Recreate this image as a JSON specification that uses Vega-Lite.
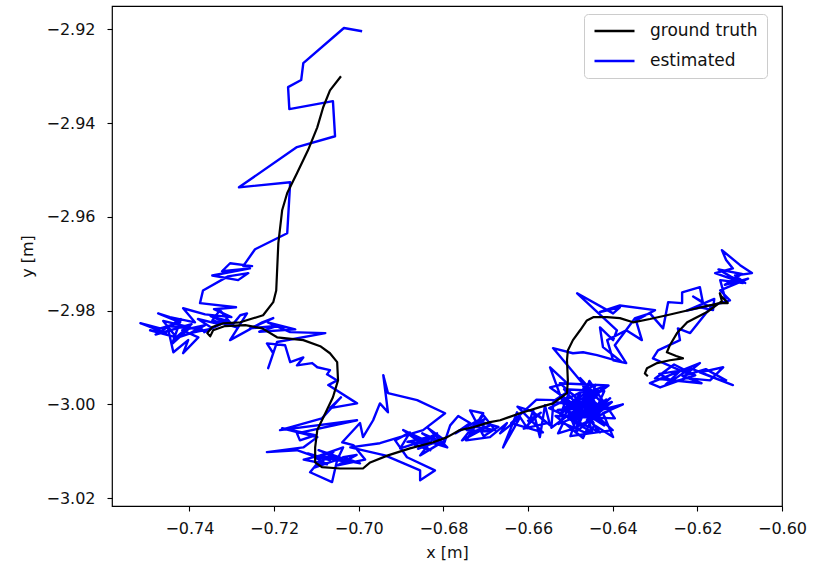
{
"$schema":"https://vega.github.io/schema/vega-lite/v6.json",
"width":670,"height":500,
"autosize":{"type":"none"},
"padding":{"left":112,"top":6,"right":31,"bottom":66},
"background":"white",
"config":{"font":"DejaVu Sans","view":{"stroke":"black","strokeWidth":1.2},
"axis":{"domain":false,"grid":false,"tickColor":"black","tickSize":5,"tickWidth":1.1,"labelColor":"#111","labelFontSize":16,"titleFontSize":16,"titleFontWeight":"normal","titleColor":"#111","labelFlush":false,"labelOverlap":false}},
"datasets":{
"gt":[
{"i":1,"x":-0.7042,"y":-2.9300},{"i":2,"x":-0.7068,"y":-2.9330},{"i":3,"x":-0.7084,"y":-2.9366},{"i":4,"x":-0.7098,"y":-2.9409},{"i":5,"x":-0.7120,"y":-2.9458},{"i":6,"x":-0.7146,"y":-2.9507},{"i":7,"x":-0.7169,"y":-2.9549},{"i":8,"x":-0.7181,"y":-2.9586},{"i":9,"x":-0.7190,"y":-2.9656},{"i":10,"x":-0.7195,"y":-2.9757},{"i":11,"x":-0.7202,"y":-2.9782},{"i":12,"x":-0.7226,"y":-2.9810},{"i":13,"x":-0.7280,"y":-2.9825},{"i":14,"x":-0.7320,"y":-2.9827},{"i":15,"x":-0.7346,"y":-2.9835},{"i":16,"x":-0.7358,"y":-2.9848},{"i":17,"x":-0.7351,"y":-2.9855},{"i":18,"x":-0.7344,"y":-2.9842},{"i":19,"x":-0.7316,"y":-2.9833},{"i":20,"x":-0.7268,"y":-2.9831},{"i":21,"x":-0.7228,"y":-2.9838},{"i":22,"x":-0.7193,"y":-2.9857},{"i":23,"x":-0.7131,"y":-2.9863},{"i":24,"x":-0.7091,"y":-2.9876},{"i":25,"x":-0.7068,"y":-2.9891},{"i":26,"x":-0.7051,"y":-2.9910},{"i":27,"x":-0.7049,"y":-2.9949},{"i":28,"x":-0.7061,"y":-2.9985},{"i":29,"x":-0.7079,"y":-3.0019},{"i":30,"x":-0.7098,"y":-3.0055},{"i":31,"x":-0.7103,"y":-3.0092},{"i":32,"x":-0.7103,"y":-3.0124},{"i":33,"x":-0.7087,"y":-3.0134},{"i":34,"x":-0.7044,"y":-3.0137},{"i":35,"x":-0.6990,"y":-3.0137},{"i":36,"x":-0.6973,"y":-3.0124},{"i":37,"x":-0.6931,"y":-3.0109},{"i":38,"x":-0.6879,"y":-3.0094},{"i":39,"x":-0.6824,"y":-3.0081},{"i":40,"x":-0.6791,"y":-3.0070},{"i":41,"x":-0.6761,"y":-3.0055},{"i":42,"x":-0.6730,"y":-3.0049},{"i":43,"x":-0.6690,"y":-3.0038},{"i":44,"x":-0.6666,"y":-3.0034},{"i":45,"x":-0.6619,"y":-3.0019},{"i":46,"x":-0.6572,"y":-3.0006},{"i":47,"x":-0.6541,"y":-2.9998},{"i":48,"x":-0.6508,"y":-2.9976},{"i":49,"x":-0.6506,"y":-2.9949},{"i":50,"x":-0.6508,"y":-2.9906},{"i":51,"x":-0.6506,"y":-2.9885},{"i":52,"x":-0.6494,"y":-2.9863},{"i":53,"x":-0.6477,"y":-2.9842},{"i":54,"x":-0.6461,"y":-2.9821},{"i":55,"x":-0.6446,"y":-2.9814},{"i":56,"x":-0.6413,"y":-2.9814},{"i":57,"x":-0.6383,"y":-2.9816},{"i":58,"x":-0.6352,"y":-2.9825},{"i":59,"x":-0.6312,"y":-2.9818},{"i":60,"x":-0.6272,"y":-2.9810},{"i":61,"x":-0.6201,"y":-2.9795},{"i":62,"x":-0.6147,"y":-2.9784},{"i":63,"x":-0.6128,"y":-2.9784},{"i":64,"x":-0.6144,"y":-2.9769},{"i":65,"x":-0.6147,"y":-2.9763},{"i":66,"x":-0.6142,"y":-2.9780},{"i":67,"x":-0.6177,"y":-2.9803},{"i":68,"x":-0.6224,"y":-2.9825},{"i":69,"x":-0.6248,"y":-2.9848},{"i":70,"x":-0.6265,"y":-2.9874},{"i":71,"x":-0.6272,"y":-2.9889},{"i":72,"x":-0.6250,"y":-2.9897},{"i":73,"x":-0.6234,"y":-2.9902},{"i":74,"x":-0.6265,"y":-2.9906},{"i":75,"x":-0.6295,"y":-2.9912},{"i":76,"x":-0.6319,"y":-2.9923},{"i":77,"x":-0.6324,"y":-2.9934},{"i":78,"x":-0.6317,"y":-2.9940}
],
"est":[
{"i":1,"x":-0.6992,"y":-2.9204},{"i":2,"x":-0.7035,"y":-2.9197},{"i":3,"x":-0.7131,"y":-2.9272},{"i":4,"x":-0.7136,"y":-2.9308},{"i":5,"x":-0.7167,"y":-2.9323},{"i":6,"x":-0.7164,"y":-2.9370},{"i":7,"x":-0.7061,"y":-2.9353},{"i":8,"x":-0.7056,"y":-2.9428},{"i":9,"x":-0.7146,"y":-2.9451},{"i":10,"x":-0.7283,"y":-2.9537},{"i":11,"x":-0.7162,"y":-2.9526},{"i":12,"x":-0.7169,"y":-2.9635},{"i":13,"x":-0.7245,"y":-2.9669},{"i":14,"x":-0.7273,"y":-2.9705},{"i":15,"x":-0.7252,"y":-2.9705},{"i":16,"x":-0.7304,"y":-2.9699},{"i":17,"x":-0.7323,"y":-2.9716},{"i":18,"x":-0.7257,"y":-2.9710},{"i":19,"x":-0.7346,"y":-2.9725},{"i":20,"x":-0.7285,"y":-2.9735},{"i":21,"x":-0.7261,"y":-2.9720},{"i":22,"x":-0.7309,"y":-2.9727},{"i":23,"x":-0.7368,"y":-2.9757},{"i":24,"x":-0.7375,"y":-2.9784},{"i":25,"x":-0.7290,"y":-2.9793},{"i":26,"x":-0.7342,"y":-2.9797},{"i":27,"x":-0.7301,"y":-2.9814},{"i":28,"x":-0.7363,"y":-2.9808},{"i":29,"x":-0.7415,"y":-2.9795},{"i":30,"x":-0.7387,"y":-2.9825},{"i":31,"x":-0.7446,"y":-2.9814},{"i":32,"x":-0.7474,"y":-2.9806},{"i":33,"x":-0.7422,"y":-2.9825},{"i":34,"x":-0.7469,"y":-2.9838},{"i":35,"x":-0.7516,"y":-2.9827},{"i":36,"x":-0.7455,"y":-2.9848},{"i":37,"x":-0.7493,"y":-2.9842},{"i":38,"x":-0.7431,"y":-2.9857},
{"i":38.1,"x":-0.7462,"y":-2.9822},{"i":38.2,"x":-0.7398,"y":-2.9836},{"i":38.3,"x":-0.7441,"y":-2.9871},{"i":38.4,"x":-0.7420,"y":-2.9818},{"i":38.5,"x":-0.7480,"y":-2.9851},{"i":38.6,"x":-0.7395,"y":-2.9829},{"i":38.7,"x":-0.7435,"y":-2.9860},{"i":38.8,"x":-0.7370,"y":-2.9840},{"i":38.9,"x":-0.7452,"y":-2.9833},
{"i":39,"x":-0.7438,"y":-2.9889},{"i":40,"x":-0.7403,"y":-2.9863},{"i":41,"x":-0.7415,"y":-2.9891},{"i":42,"x":-0.7379,"y":-2.9857},{"i":43,"x":-0.7417,"y":-2.9842},{"i":44,"x":-0.7363,"y":-2.9831},{"i":45,"x":-0.7398,"y":-2.9848},
{"i":45.1,"x":-0.7345,"y":-2.9838},{"i":45.2,"x":-0.7380,"y":-2.9818},{"i":45.3,"x":-0.7330,"y":-2.9829},{"i":45.4,"x":-0.7365,"y":-2.9846},{"i":45.5,"x":-0.7310,"y":-2.9822},{"i":45.6,"x":-0.7350,"y":-2.9812},{"i":45.7,"x":-0.7290,"y":-2.9835},
{"i":46,"x":-0.7346,"y":-2.9821},{"i":47,"x":-0.7328,"y":-2.9799},{"i":48,"x":-0.7299,"y":-2.9831},{"i":49,"x":-0.7280,"y":-2.9810},{"i":50,"x":-0.7264,"y":-2.9806},{"i":51,"x":-0.7304,"y":-2.9863},{"i":52,"x":-0.7228,"y":-2.9825},{"i":53,"x":-0.7202,"y":-2.9816},{"i":54,"x":-0.7257,"y":-2.9838},
{"i":54.1,"x":-0.7190,"y":-2.9832},{"i":54.2,"x":-0.7235,"y":-2.9845},{"i":54.3,"x":-0.7150,"y":-2.9840},{"i":54.4,"x":-0.7215,"y":-2.9825},
{"i":55,"x":-0.7162,"y":-2.9846},{"i":56,"x":-0.7079,"y":-2.9848},{"i":57,"x":-0.7193,"y":-2.9867},{"i":58,"x":-0.7214,"y":-2.9923},{"i":59,"x":-0.7202,"y":-2.9891},{"i":60,"x":-0.7217,"y":-2.9870},{"i":61,"x":-0.7174,"y":-2.9874},{"i":62,"x":-0.7162,"y":-2.9910},{"i":63,"x":-0.7131,"y":-2.9900},{"i":64,"x":-0.7146,"y":-2.9917},{"i":65,"x":-0.7110,"y":-2.9912},{"i":66,"x":-0.7098,"y":-2.9921},{"i":67,"x":-0.7068,"y":-2.9927},{"i":68,"x":-0.7075,"y":-2.9936},{"i":69,"x":-0.7051,"y":-2.9949},{"i":70,"x":-0.7072,"y":-2.9959},{"i":71,"x":-0.7004,"y":-2.9998},{"i":72,"x":-0.7068,"y":-3.0008},{"i":73,"x":-0.7042,"y":-2.9985},{"i":74,"x":-0.7087,"y":-3.0030},{"i":75,"x":-0.7186,"y":-3.0055},{"i":76,"x":-0.7004,"y":-3.0034},{"i":77,"x":-0.7146,"y":-3.0062},{"i":78,"x":-0.7139,"y":-3.0077},{"i":79,"x":-0.7103,"y":-3.0066},{"i":80,"x":-0.7181,"y":-3.0051},{"i":81,"x":-0.7098,"y":-3.0070},{"i":82,"x":-0.7131,"y":-3.0092},{"i":83,"x":-0.7217,"y":-3.0102},{"i":84,"x":-0.7146,"y":-3.0098},{"i":85,"x":-0.7098,"y":-3.0113},{"i":86,"x":-0.7068,"y":-3.0119},
{"i":86.1,"x":-0.7120,"y":-3.0105},{"i":86.2,"x":-0.7075,"y":-3.0128},{"i":86.3,"x":-0.7130,"y":-3.0118},{"i":86.4,"x":-0.7060,"y":-3.0102},{"i":86.5,"x":-0.7105,"y":-3.0135},{"i":86.6,"x":-0.7040,"y":-3.0115},{"i":86.7,"x":-0.7095,"y":-3.0098},{"i":86.8,"x":-0.7020,"y":-3.0125},{"i":86.9,"x":-0.7085,"y":-3.0112},
{"i":87,"x":-0.7115,"y":-3.0145},{"i":88,"x":-0.7063,"y":-3.0166},{"i":89,"x":-0.7051,"y":-3.0119},{"i":90,"x":-0.7037,"y":-3.0092},{"i":91,"x":-0.7091,"y":-3.0109},{"i":92,"x":-0.6997,"y":-3.0126},{"i":93,"x":-0.7037,"y":-3.0113},
{"i":93.1,"x":-0.7005,"y":-3.0108},{"i":93.2,"x":-0.7050,"y":-3.0130},{"i":93.3,"x":-0.6985,"y":-3.0118},
{"i":94,"x":-0.7013,"y":-3.0087},{"i":95,"x":-0.7039,"y":-3.0081},{"i":96,"x":-0.6997,"y":-3.0040},{"i":97,"x":-0.6990,"y":-3.0070},{"i":98,"x":-0.6966,"y":-3.0034},{"i":99,"x":-0.6950,"y":-2.9998},{"i":100,"x":-0.6931,"y":-3.0017},{"i":101,"x":-0.6942,"y":-2.9938},{"i":102,"x":-0.6931,"y":-2.9976},{"i":103,"x":-0.6862,"y":-2.9991},{"i":104,"x":-0.6796,"y":-3.0019},{"i":105,"x":-0.6848,"y":-3.0055},{"i":106,"x":-0.6950,"y":-3.0083},{"i":107,"x":-0.7020,"y":-3.0092},{"i":108,"x":-0.6938,"y":-3.0109},{"i":109,"x":-0.6855,"y":-3.0141},{"i":110,"x":-0.6855,"y":-3.0162},{"i":111,"x":-0.6820,"y":-3.0141},{"i":112,"x":-0.6886,"y":-3.0113},{"i":113,"x":-0.6914,"y":-3.0077},{"i":114,"x":-0.6879,"y":-3.0060},{"i":115,"x":-0.6902,"y":-3.0094},{"i":116,"x":-0.6843,"y":-3.0077},{"i":117,"x":-0.6895,"y":-3.0055},{"i":118,"x":-0.6831,"y":-3.0098},{"i":119,"x":-0.6867,"y":-3.0087},{"i":120,"x":-0.6815,"y":-3.0062},{"i":121,"x":-0.6855,"y":-3.0109},{"i":122,"x":-0.6796,"y":-3.0077},{"i":123,"x":-0.6836,"y":-3.0051},{"i":124,"x":-0.6791,"y":-3.0092},
{"i":124.1,"x":-0.6870,"y":-3.0070},{"i":124.2,"x":-0.6835,"y":-3.0085},{"i":124.3,"x":-0.6885,"y":-3.0080},{"i":124.4,"x":-0.6825,"y":-3.0068},{"i":124.5,"x":-0.6860,"y":-3.0095},{"i":124.6,"x":-0.6810,"y":-3.0078},{"i":124.7,"x":-0.6850,"y":-3.0062},{"i":124.8,"x":-0.6800,"y":-3.0088},
{"i":125,"x":-0.6784,"y":-3.0045},{"i":126,"x":-0.6765,"y":-3.0025},{"i":127,"x":-0.6737,"y":-3.0040},{"i":128,"x":-0.6772,"y":-3.0062},{"i":129,"x":-0.6718,"y":-3.0034},{"i":130,"x":-0.6756,"y":-3.0077},{"i":131,"x":-0.6690,"y":-3.0045},{"i":132,"x":-0.6737,"y":-3.0062},{"i":133,"x":-0.6706,"y":-3.0023},{"i":134,"x":-0.6678,"y":-3.0055},
{"i":134.1,"x":-0.6725,"y":-3.0048},{"i":134.2,"x":-0.6700,"y":-3.0030},{"i":134.3,"x":-0.6745,"y":-3.0055},{"i":134.4,"x":-0.6690,"y":-3.0058},{"i":134.5,"x":-0.6720,"y":-3.0035},{"i":134.6,"x":-0.6670,"y":-3.0048},{"i":134.7,"x":-0.6705,"y":-3.0068},
{"i":135,"x":-0.6737,"y":-3.0013},{"i":136,"x":-0.6706,"y":-3.0019},{"i":137,"x":-0.6746,"y":-3.0077},{"i":138,"x":-0.6690,"y":-3.0070},{"i":139,"x":-0.6650,"y":-3.0040},{"i":140,"x":-0.6666,"y":-3.0062},{"i":141,"x":-0.6619,"y":-3.0028},{"i":142,"x":-0.6659,"y":-3.0092},{"i":143,"x":-0.6638,"y":-3.0045},{"i":144,"x":-0.6626,"y":-3.0017},{"i":145,"x":-0.6602,"y":-3.0051},{"i":146,"x":-0.6588,"y":-3.0013},{"i":147,"x":-0.6572,"y":-3.0070},{"i":148,"x":-0.6560,"y":-3.0002},{"i":149,"x":-0.6548,"y":-3.0045},{"i":150,"x":-0.6576,"y":-3.0023},
{"i":150.1,"x":-0.6600,"y":-3.0035},{"i":150.2,"x":-0.6570,"y":-3.0018},{"i":150.3,"x":-0.6610,"y":-3.0052},{"i":150.4,"x":-0.6555,"y":-3.0040},{"i":150.5,"x":-0.6590,"y":-3.0015},{"i":150.6,"x":-0.6625,"y":-3.0005},{"i":150.7,"x":-0.6565,"y":-3.0060},{"i":150.8,"x":-0.6640,"y":-3.0040},{"i":150.9,"x":-0.6580,"y":-2.9990},
{"i":151,"x":-0.6536,"y":-2.9991},{"i":152,"x":-0.6501,"y":-2.9970},{"i":153,"x":-0.6524,"y":-3.0023},{"i":154,"x":-0.6477,"y":-2.9981},{"i":155,"x":-0.6513,"y":-3.0008},{"i":156,"x":-0.6548,"y":-2.9921},{"i":157,"x":-0.6508,"y":-2.9955},{"i":158,"x":-0.6548,"y":-2.9964},{"i":159,"x":-0.6489,"y":-3.0002},{"i":160,"x":-0.6454,"y":-2.9987},{"i":161,"x":-0.6496,"y":-3.0030},{"i":162,"x":-0.6465,"y":-3.0013},{"i":163,"x":-0.6435,"y":-2.9974},{"i":164,"x":-0.6482,"y":-2.9991},{"i":165,"x":-0.6430,"y":-3.0023},{"i":166,"x":-0.6470,"y":-2.9959},{"i":167,"x":-0.6418,"y":-3.0002},{"i":168,"x":-0.6461,"y":-3.0034},{"i":169,"x":-0.6406,"y":-2.9987},{"i":170,"x":-0.6449,"y":-3.0017},{"i":171,"x":-0.6376,"y":-3.0000},{"i":172,"x":-0.6423,"y":-3.0019},{"i":173,"x":-0.6399,"y":-3.0070},{"i":174,"x":-0.6442,"y":-3.0045},{"i":175,"x":-0.6461,"y":-3.0062},{"i":176,"x":-0.6517,"y":-3.0040},{"i":177,"x":-0.6529,"y":-3.0062},{"i":178,"x":-0.6489,"y":-3.0051},{"i":179,"x":-0.6506,"y":-3.0013},{"i":180,"x":-0.6454,"y":-2.9998},{"i":181,"x":-0.6477,"y":-2.9944},{"i":182,"x":-0.6439,"y":-2.9981},{"i":183,"x":-0.6418,"y":-2.9961},{"i":184,"x":-0.6458,"y":-2.9974},
{"i":184.01,"x":-0.6490,"y":-2.9990},{"i":184.02,"x":-0.6455,"y":-3.0010},{"i":184.03,"x":-0.6500,"y":-3.0020},{"i":184.04,"x":-0.6440,"y":-2.9985},{"i":184.05,"x":-0.6480,"y":-3.0005},{"i":184.06,"x":-0.6425,"y":-3.0008},{"i":184.07,"x":-0.6470,"y":-2.9975},{"i":184.08,"x":-0.6430,"y":-3.0028},{"i":184.09,"x":-0.6510,"y":-3.0000},{"i":184.10,"x":-0.6450,"y":-2.9995},{"i":184.11,"x":-0.6492,"y":-3.0035},{"i":184.12,"x":-0.6415,"y":-2.9990},{"i":184.13,"x":-0.6465,"y":-3.0018},{"i":184.14,"x":-0.6520,"y":-2.9985},{"i":184.15,"x":-0.6445,"y":-3.0040},{"i":184.16,"x":-0.6475,"y":-2.9995},{"i":184.17,"x":-0.6405,"y":-3.0012},{"i":184.18,"x":-0.6485,"y":-3.0048},{"i":184.19,"x":-0.6460,"y":-2.9968},{"i":184.20,"x":-0.6438,"y":-3.0002},{"i":184.21,"x":-0.6530,"y":-3.0012},{"i":184.22,"x":-0.6452,"y":-3.0025},{"i":184.23,"x":-0.6495,"y":-2.9978},{"i":184.24,"x":-0.6420,"y":-3.0045},{"i":184.25,"x":-0.6478,"y":-3.0012},{"i":184.26,"x":-0.6435,"y":-2.9980},{"i":184.27,"x":-0.6505,"y":-3.0030},{"i":184.28,"x":-0.6448,"y":-3.0060},{"i":184.29,"x":-0.6468,"y":-3.0003},{"i":184.30,"x":-0.6540,"y":-2.9995},
{"i":184.31,"x":-0.6545,"y":-3.0050},{"i":184.32,"x":-0.6410,"y":-2.9960},{"i":184.33,"x":-0.6525,"y":-2.9955},{"i":184.34,"x":-0.6400,"y":-3.0055},{"i":184.35,"x":-0.6500,"y":-3.0068},{"i":184.36,"x":-0.6455,"y":-2.9950},{"i":184.37,"x":-0.6395,"y":-3.0030},{"i":184.38,"x":-0.6535,"y":-3.0025},{"i":184.39,"x":-0.6470,"y":-3.0072},{"i":184.40,"x":-0.6420,"y":-2.9972},{"i":184.41,"x":-0.6515,"y":-2.9968},{"i":184.42,"x":-0.6430,"y":-3.0060},{"i":184.43,"x":-0.6550,"y":-3.0008},{"i":184.44,"x":-0.6440,"y":-2.9958},{"i":184.45,"x":-0.6488,"y":-3.0060},{"i":184.46,"x":-0.6402,"y":-2.9995},{"i":184.47,"x":-0.6528,"y":-3.0042},{"i":184.48,"x":-0.6465,"y":-2.9962},
{"i":185,"x":-0.6541,"y":-2.9880},{"i":186,"x":-0.6494,"y":-2.9891},{"i":187,"x":-0.6470,"y":-2.9889},{"i":188,"x":-0.6437,"y":-2.9895},{"i":189,"x":-0.6378,"y":-2.9910},{"i":190,"x":-0.6423,"y":-2.9878},{"i":191,"x":-0.6430,"y":-2.9836},{"i":192,"x":-0.6399,"y":-2.9863},{"i":193,"x":-0.6390,"y":-2.9842},{"i":194,"x":-0.6484,"y":-2.9763},{"i":195,"x":-0.6399,"y":-2.9806},{"i":196,"x":-0.6383,"y":-2.9793},{"i":197,"x":-0.6430,"y":-2.9803},{"i":198,"x":-0.6383,"y":-2.9789},{"i":199,"x":-0.6300,"y":-2.9799},{"i":200,"x":-0.6345,"y":-2.9821},{"i":201,"x":-0.6331,"y":-2.9863},{"i":202,"x":-0.6368,"y":-2.9842},{"i":203,"x":-0.6413,"y":-2.9863},{"i":204,"x":-0.6399,"y":-2.9906},{"i":205,"x":-0.6368,"y":-2.9912},{"i":206,"x":-0.6395,"y":-2.9874},{"i":207,"x":-0.6347,"y":-2.9816},{"i":208,"x":-0.6312,"y":-2.9806},{"i":209,"x":-0.6281,"y":-2.9838},{"i":210,"x":-0.6269,"y":-2.9782},{"i":211,"x":-0.6236,"y":-2.9784},{"i":212,"x":-0.6236,"y":-2.9761},{"i":213,"x":-0.6194,"y":-2.9750},{"i":214,"x":-0.6187,"y":-2.9782},
{"i":214.1,"x":-0.6210,"y":-2.9770},{"i":214.2,"x":-0.6175,"y":-2.9790},{"i":214.3,"x":-0.6225,"y":-2.9800},{"i":214.4,"x":-0.6160,"y":-2.9775},
{"i":215,"x":-0.6163,"y":-2.9799},{"i":216,"x":-0.6194,"y":-2.9793},{"i":217,"x":-0.6132,"y":-2.9782},{"i":218,"x":-0.6146,"y":-2.9735},{"i":219,"x":-0.6092,"y":-2.9741},{"i":220,"x":-0.6158,"y":-2.9720},{"i":221,"x":-0.6116,"y":-2.9710},{"i":222,"x":-0.6132,"y":-2.9692},{"i":223,"x":-0.6142,"y":-2.9671},{"i":224,"x":-0.6099,"y":-2.9703},{"i":225,"x":-0.6071,"y":-2.9720},{"i":226,"x":-0.6111,"y":-2.9725},{"i":227,"x":-0.6087,"y":-2.9741},
{"i":227.1,"x":-0.6120,"y":-2.9728},{"i":227.2,"x":-0.6150,"y":-2.9712},{"i":227.3,"x":-0.6095,"y":-2.9722},{"i":227.4,"x":-0.6135,"y":-2.9745},{"i":227.5,"x":-0.6080,"y":-2.9732},
{"i":228,"x":-0.6146,"y":-2.9757},{"i":229,"x":-0.6123,"y":-2.9778},{"i":230,"x":-0.6165,"y":-2.9789},{"i":231,"x":-0.6217,"y":-2.9848},{"i":232,"x":-0.6246,"y":-2.9838},{"i":233,"x":-0.6241,"y":-2.9863},{"i":234,"x":-0.6293,"y":-2.9885},{"i":235,"x":-0.6305,"y":-2.9902},{"i":236,"x":-0.6257,"y":-2.9921},{"i":237,"x":-0.6224,"y":-2.9934},{"i":238,"x":-0.6194,"y":-2.9912},{"i":239,"x":-0.6312,"y":-2.9955},{"i":240,"x":-0.6288,"y":-2.9964},{"i":241,"x":-0.6227,"y":-2.9944},{"i":242,"x":-0.6170,"y":-2.9949},{"i":243,"x":-0.6139,"y":-2.9921},{"i":244,"x":-0.6194,"y":-2.9932},{"i":245,"x":-0.6116,"y":-2.9959},{"i":246,"x":-0.6217,"y":-2.9923},
{"i":247,"x":-0.6260,"y":-2.9950},{"i":248,"x":-0.6290,"y":-2.9935},{"i":249,"x":-0.6240,"y":-2.9928},{"i":250,"x":-0.6275,"y":-2.9958},{"i":251,"x":-0.6205,"y":-2.9938},{"i":252,"x":-0.6255,"y":-2.9915},{"i":253,"x":-0.6300,"y":-2.9945},{"i":254,"x":-0.6190,"y":-2.9955},{"i":255,"x":-0.6235,"y":-2.9940},{"i":256,"x":-0.6180,"y":-2.9925},{"i":257,"x":-0.6130,"y":-2.9950}
]},
"encoding":{
"x":{"field":"x","type":"quantitative","scale":{"domain":[-0.7583,-0.6],"nice":false,"zero":false},"axis":{"title":"x [m]","values":[-0.74,-0.72,-0.70,-0.68,-0.66,-0.64,-0.62,-0.60],"format":".2f","labelPadding":9,"titlePadding":8}},
"y":{"field":"y","type":"quantitative","scale":{"domain":[-3.0217,-2.915],"nice":false,"zero":false},"axis":{"title":"y [m]","values":[-3.02,-3.00,-2.98,-2.96,-2.94,-2.92],"format":".2f","labelPadding":12,"titlePadding":10}},
"order":{"field":"i","type":"quantitative"},
"color":{"scale":{"domain":["ground truth","estimated"],"range":["black","blue"]},
"legend":{"title":null,"orient":"none","legendX":472,"legendY":8,"symbolType":"stroke","symbolSize":1600,"symbolStrokeWidth":2.3,"labelFontSize":17,"labelColor":"#111","labelOffset":14,"padding":9,"rowPadding":13,"clipHeight":16,"fillColor":"white","strokeColor":"#cccccc","cornerRadius":4}}
},
"layer":[
{"data":{"name":"est"},"mark":{"type":"line","strokeWidth":2.4,"strokeJoin":"round"},"encoding":{"color":{"datum":"estimated"}}},
{"data":{"name":"gt"},"mark":{"type":"line","strokeWidth":2.2,"strokeJoin":"round"},"encoding":{"color":{"datum":"ground truth"}}}
]
}
